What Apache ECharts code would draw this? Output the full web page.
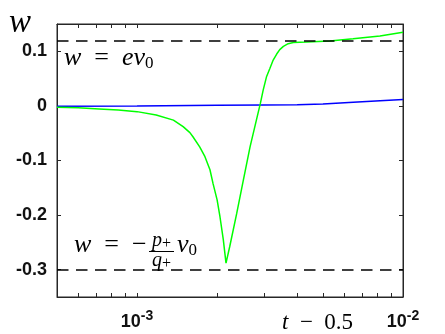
<!DOCTYPE html>
<html>
<head>
<meta charset="utf-8">
<script src="https://cdn.jsdelivr.net/npm/echarts@6/dist/echarts.min.js"></script>
<style>
  html, body { margin: 0; padding: 0; background: #fff; }
  #chart { width: 445px; height: 334px; }
</style>
</head>
<body>
<div id="chart"></div>
<script>
// green curve, t - 0.5 against w
const tGreen = [5.0e-4, 6.0e-4, 7.2e-4, 8.5e-4, 1.0e-3, 1.18e-3, 1.37e-3, 1.49e-3, 1.58e-3, 1.62e-3,
    1.72e-3, 1.80e-3, 1.88e-3, 1.93e-3, 2.00e-3, 2.05e-3, 2.11e-3, 2.16e-3, 2.23e-3, 2.37e-3,
    2.51e-3, 2.66e-3, 2.81e-3, 2.91e-3, 2.98e-3, 3.07e-3, 3.16e-3, 3.25e-3, 3.35e-3, 3.44e-3,
    3.55e-3, 3.70e-3, 3.87e-3, 4.34e-3, 5.31e-3, 6.49e-3, 8.19e-3, 1.0e-2];
const wGreen = [-0.0025, -0.0035, -0.0055, -0.0075, -0.0105, -0.0165, -0.026, -0.038, -0.049, -0.056,
    -0.075, -0.093, -0.117, -0.142, -0.172, -0.203, -0.245, -0.288, -0.258, -0.197,
    -0.136, -0.075, -0.026, 0.005, 0.029, 0.054, 0.069, 0.084, 0.095, 0.103,
    0.109, 0.114, 0.116, 0.117, 0.119, 0.123, 0.128, 0.135];
// blue curve
const tBlue = [5.0e-4, 1.0e-3, 2.0e-3, 3.0e-3, 4.0e-3, 5.0e-3, 6.5e-3, 8.2e-3, 1.0e-2];
const wBlue = [-0.0005, 0, 0.0012, 0.0016, 0.002, 0.0035, 0.0068, 0.0095, 0.0116];
// dashed levels: w = e v0 and w = -p+/q+ v0
const dashLevels = [0.117, -0.3];

const xTicks = [5e-4, 6e-4, 7e-4, 8e-4, 9e-4, 1e-3, 2e-3, 3e-3, 4e-3, 5e-3, 6e-3, 7e-3, 8e-3, 9e-3, 1e-2];
const xLabels = [1e-3, 1e-2];
const yTicks = [-0.3, -0.2, -0.1, 0, 0.1];

const axisColor = '#262626';
const sans = '"Liberation Sans", Arial, sans-serif';
const serif = '"Liberation Serif", "Times New Roman", serif';

function toPairs(xs, ys) {
    return xs.map((x, i) => [x, ys[i]]);
}

function xAxisOf(pos, showLabel) {
    const axis = {
        type: 'log',
        logBase: 10,
        position: pos,
        min: 5e-4,
        max: 1e-2,
        axisLine: { show: true, onZero: false, lineStyle: { color: axisColor, width: 1 } },
        axisTick: { show: true, inside: true, length: 4, customValues: xTicks, lineStyle: { color: axisColor } },
        minorTick: { show: false },
        splitLine: { show: false },
        axisLabel: { show: false }
    };
    if (showLabel) {
        axis.axisLabel = {
            show: true,
            customValues: xLabels,
            margin: 12,
            formatter: v => '{b|10}{s|' + Math.round(Math.log10(v)) + '}',
            rich: {
                b: { fontFamily: sans, fontWeight: 'bold', fontSize: 18, color: '#111', lineHeight: 22, verticalAlign: 'bottom' },
                s: { fontFamily: sans, fontWeight: 'bold', fontSize: 14, color: '#111', lineHeight: 22, verticalAlign: 'top' }
            }
        };
    }
    return axis;
}

function yAxisOf(pos, showLabel) {
    const axis = {
        type: 'value',
        position: pos,
        min: -0.35,
        max: 0.15,
        axisLine: { show: true, onZero: false, lineStyle: { color: axisColor, width: 1 } },
        axisTick: { show: true, inside: true, length: 4, customValues: yTicks, lineStyle: { color: axisColor } },
        splitLine: { show: false },
        axisLabel: { show: false }
    };
    if (showLabel) {
        axis.axisLabel = {
            show: true,
            customValues: yTicks,
            margin: 10,
            fontFamily: sans,
            fontWeight: 'bold',
            fontSize: 18,
            color: '#111',
            formatter: v => String(Math.round(v * 10) / 10)
        };
    }
    return axis;
}

const chart = echarts.init(document.getElementById('chart'), null, { renderer: 'canvas' });

const mathRich = {
    i: { fontFamily: serif, fontStyle: 'italic', fontSize: 26, color: '#000', lineHeight: 27, verticalAlign: 'top' },
    r: { fontFamily: serif, fontSize: 26, color: '#000', lineHeight: 27, verticalAlign: 'top' },
    s: { fontFamily: serif, fontSize: 17, color: '#000', lineHeight: 27, verticalAlign: 'bottom' }
};
const fracRich = {
    i: { fontFamily: serif, fontStyle: 'italic', fontSize: 20, color: '#000', lineHeight: 21, verticalAlign: 'top' },
    s: { fontFamily: serif, fontSize: 16, color: '#000', lineHeight: 21, verticalAlign: 'bottom' }
};

chart.setOption({
    animation: false,
    backgroundColor: '#fff',
    grid: {
        left: 57, right: 42, top: 24, bottom: 37,
        show: true, borderColor: axisColor, borderWidth: 1, backgroundColor: 'transparent',
        containLabel: false, outerBoundsMode: 'none'
    },
    xAxis: [xAxisOf('bottom', true), xAxisOf('top', false)],
    yAxis: [yAxisOf('left', true), yAxisOf('right', false)],
    series: [
        {
            name: 'blue',
            type: 'line',
            xAxisIndex: 0,
            yAxisIndex: 0,
            data: toPairs(tBlue, wBlue),
            showSymbol: false,
            lineStyle: { color: '#0000ff', width: 1.5 },
            markLine: {
                silent: true,
                symbol: 'none',
                label: { show: false },
                lineStyle: { color: '#000', width: 1.5, type: [11.5, 7.5] },
                data: dashLevels.map(v => ({ yAxis: v }))
            }
        },
        {
            name: 'green',
            type: 'line',
            xAxisIndex: 1,
            yAxisIndex: 1,
            data: toPairs(tGreen, wGreen),
            showSymbol: false,
            lineStyle: { color: '#00ff00', width: 1.5 }
        }
    ],
    graphic: [
        // y axis name
        { type: 'text', x: 9, y: 7, style: { text: '{i|w}', verticalAlign: 'top',
            rich: { i: { fontFamily: serif, fontStyle: 'italic', fontSize: 33, color: '#000' } } } },
        // x axis name
        { type: 'text', x: 282, y: 311, style: { text: '{i|t}{r|  −  0.5}', verticalAlign: 'top',
            rich: {
                i: { fontFamily: serif, fontStyle: 'italic', fontSize: 23, color: '#000', verticalAlign: 'top' },
                r: { fontFamily: serif, fontSize: 23, color: '#000', verticalAlign: 'top' }
            } } },
        // w = e v0
        { type: 'text', x: 64, y: 45, style: { text: '{i|w}{r|  =  }{i|ev}{s|0}', verticalAlign: 'top', rich: mathRich } },
        // w = - p+/q+ v0
        { type: 'text', x: 74, y: 232, style: { text: '{i|w}{r|  =  −}', verticalAlign: 'top', rich: mathRich } },
        { type: 'text', x: 161.5, y: 231, style: { text: '{i|p}{s|+}', align: 'center', verticalAlign: 'top', rich: fracRich } },
        { type: 'text', x: 161.5, y: 251, style: { text: '{i|q}{s|+}', align: 'center', verticalAlign: 'top', rich: fracRich } },
        { type: 'line', shape: { x1: 149, y1: 251.5, x2: 174, y2: 251.5 }, style: { stroke: '#000', lineWidth: 1 } },
        { type: 'text', x: 177, y: 232, style: { text: '{i|v}{s|0}', verticalAlign: 'top', rich: mathRich } }
    ]
});
</script>
</body>
</html>
